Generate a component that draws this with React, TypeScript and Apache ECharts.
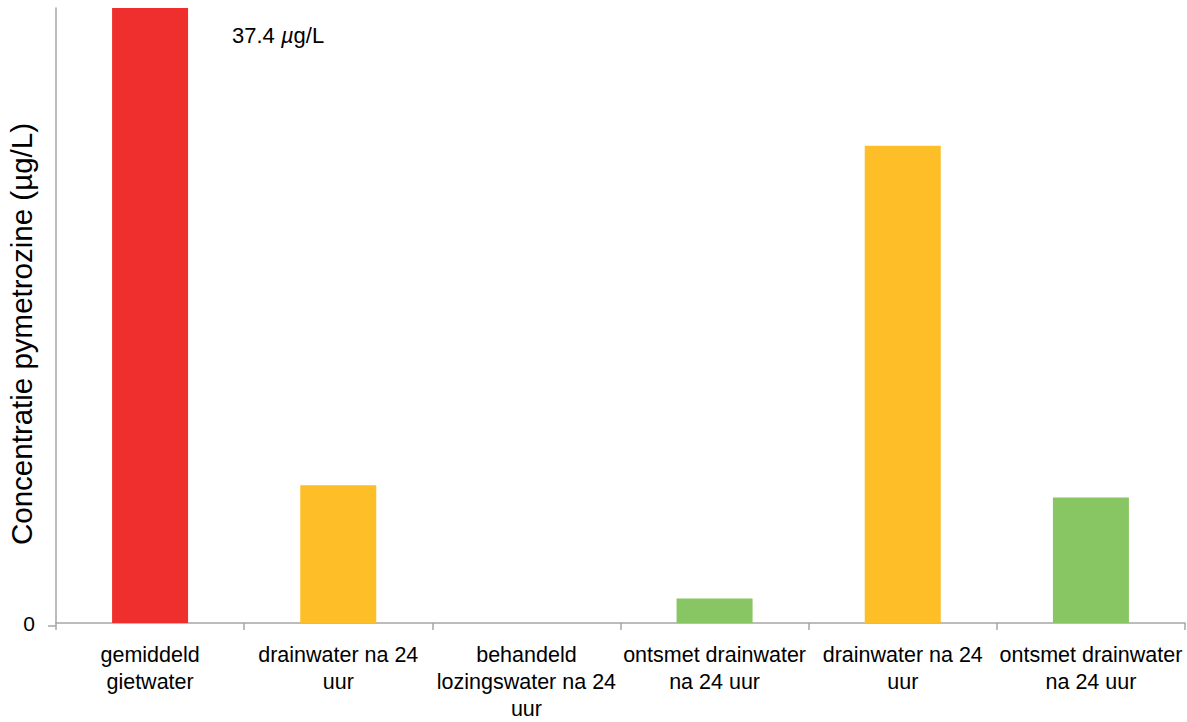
import React, { useEffect, useRef } from "react";
import * as echarts from "echarts";

const categories = [
  "gemiddeld\ngietwater",
  "drainwater na 24\nuur",
  "behandeld\nlozingswater na 24\nuur",
  "ontsmet drainwater\nna 24 uur",
  "drainwater na 24\nuur",
  "ontsmet drainwater\nna 24 uur",
];
// concentration (µg/L); first bar (37.4) exceeds axis and is clipped
const values = [37.4, 1.12, 0, 0.2, 3.88, 1.02];
const barColors = ["#EE2F2E", "#FDBE28", "#FDBE28", "#88C663", "#FDBE28", "#88C663"];
const yMax = 5;
const yTitle = "Concentratie pymetrozine (µg/L)";
const noteValue = "37.4";

const FONT = "'Liberation Sans', Arial, Helvetica, sans-serif";

export default function App() {
  const ref = useRef<HTMLDivElement>(null);
  useEffect(() => {
    if (!ref.current) return;
    const chart = echarts.init(ref.current, null, { renderer: "svg" });
    chart.setOption({
      animation: false,
      backgroundColor: "#fff",
      grid: { left: 56, right: 2, top: 8, bottom: 96, containLabel: false },
      xAxis: {
        type: "category",
        data: categories,
        axisLine: { show: true, lineStyle: { color: "#A6A6A6", width: 1.5 } },
        axisTick: { show: true, length: 7, alignWithLabel: false, lineStyle: { color: "#A6A6A6", width: 1.5 } },
        axisLabel: {
          interval: 0,
          margin: 18,
          color: "#000",
          fontSize: 21.5,
          lineHeight: 27,
          fontFamily: FONT,
          align: "center",
        },
      },
      yAxis: {
        type: "value",
        min: 0,
        max: yMax,
        interval: yMax,
        axisLine: { show: true, lineStyle: { color: "#A6A6A6", width: 1.5 } },
        axisTick: { show: false },
        splitLine: { show: false },
        axisLabel: {
          showMaxLabel: false,
          margin: 21,
          color: "#000",
          fontSize: 21,
          fontFamily: FONT,
          formatter: (v: number) => (v === 0 ? "0" : ""),
        },
      },
      graphic: [
        {
          type: "line",
          shape: { x1: 48, y1: 626, x2: 56, y2: 626 },
          style: { stroke: "#A6A6A6", lineWidth: 1.5 },
        },
        {
          type: "text",
          x: 21,
          y: 334,
          rotation: Math.PI / 2,
          style: {
            text: yTitle,
            fill: "#000",
            font: `29.5px ${FONT}`,
            align: "center",
            verticalAlign: "middle",
          },
        },
        {
          type: "text",
          x: 232,
          y: 35,
          style: {
            text: `{a|${noteValue} }{b|µ}{a|g/L}`,
            verticalAlign: "middle",
            align: "left",
            rich: {
              a: { fontSize: 22, fontFamily: FONT, fill: "#000" },
              b: { fontSize: 22, fontFamily: FONT, fontStyle: "italic", fill: "#000" },
            },
          },
        },
      ],
      series: [
        {
          type: "bar",
          barWidth: 76,
          clip: true,
          data: values.map((v, i) => ({ value: v, itemStyle: { color: barColors[i] } })),
        },
      ],
    });
    return () => chart.dispose();
  }, []);
  return (
    <div
      ref={ref}
      style={{ position: "fixed", left: 0, top: 0, width: 1187, height: 722 }}
    />
  );
}
